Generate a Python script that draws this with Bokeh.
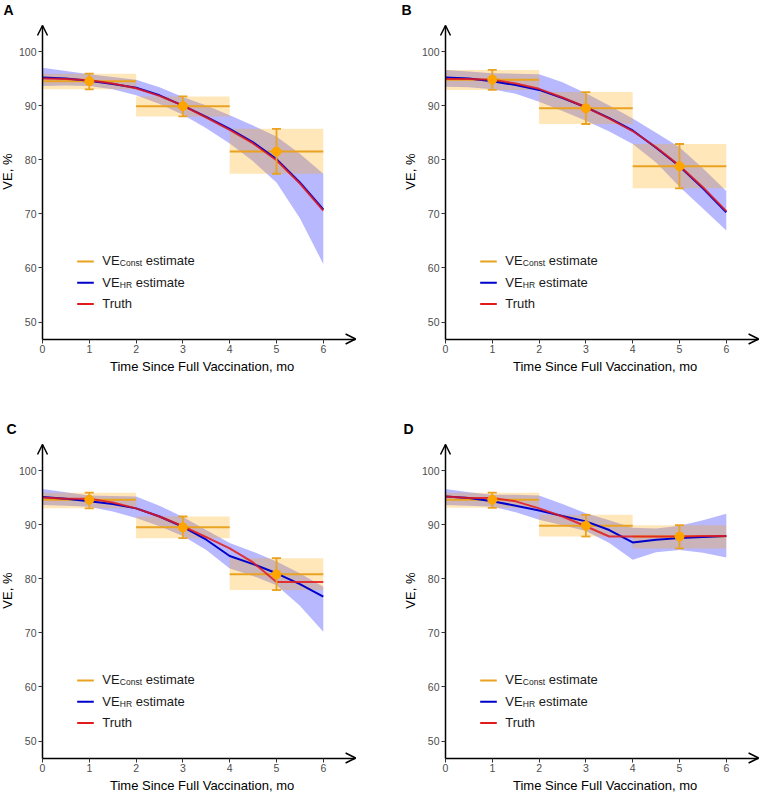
import numpy as np
from bokeh.plotting import figure
from bokeh.models import Range1d, Label, Arrow, OpenHead, FixedTicker
from bokeh.layouts import column, row
from bokeh.embed import file_html
from bokeh.resources import INLINE

# ---------------- data ----------------
time = [0, 0.5, 1, 1.5, 2, 2.5, 3, 3.5, 4, 4.5, 5, 5.5, 6]
period_start = [0, 2, 4]
period_end = [2, 4, 6]
period_mid = [1, 3, 5]
x_ticks = [0, 1, 2, 3, 4, 5, 6]
y_ticks = [50, 60, 70, 80, 90, 100]

# Panel A
a_hr = [95.2, 95.0, 94.6, 94.0, 93.3, 91.9, 90.0, 87.9, 85.7, 83.2, 80.1, 75.8, 70.8]
a_hr_lo = [93.6, 93.7, 93.6, 93.0, 91.9, 90.3, 88.3, 85.8, 83.0, 79.7, 75.8, 69.2, 60.7]
a_hr_hi = [97.0, 96.4, 95.8, 95.3, 94.8, 93.4, 91.6, 90.0, 88.2, 86.3, 84.3, 81.1, 77.4]
a_truth = [95.0, 94.9, 94.7, 94.1, 93.2, 91.8, 90.0, 87.8, 85.5, 83.0, 79.9, 75.6, 70.6]
a_const = [94.5, 89.9, 81.5]
a_const_lo = [93.0, 88.0, 77.4]
a_const_hi = [95.9, 91.7, 85.7]

# Panel B
b_hr = [95.2, 95.0, 94.5, 93.8, 92.9, 91.4, 89.7, 87.7, 85.4, 82.2, 78.8, 74.7, 70.3]
b_hr_lo = [93.5, 93.4, 93.0, 92.2, 90.7, 89.0, 87.2, 85.2, 82.9, 79.5, 75.0, 71.0, 66.9]
b_hr_hi = [96.6, 96.3, 96.0, 95.9, 95.8, 94.3, 92.3, 90.0, 87.6, 85.0, 82.3, 78.4, 74.2]
b_truth = [94.9, 94.9, 94.8, 94.1, 93.1, 91.5, 89.7, 87.6, 85.3, 82.3, 78.9, 74.9, 70.5]
b_const = [94.8, 89.5, 78.8]
b_const_lo = [92.9, 86.6, 74.7]
b_const_hi = [96.6, 92.5, 82.9]

# Panel C
c_hr = [95.1, 94.8, 94.3, 93.8, 93.0, 91.5, 89.6, 87.2, 84.2, 82.7, 81.0, 79.0, 76.7]
c_hr_lo = [93.6, 93.5, 93.3, 92.4, 91.2, 89.7, 87.9, 85.3, 81.9, 80.5, 78.8, 75.0, 70.2]
c_hr_hi = [96.6, 96.0, 95.4, 95.3, 95.2, 93.5, 91.4, 89.0, 86.6, 85.0, 83.2, 81.0, 78.5]
c_truth = [95.0, 94.8, 94.8, 94.1, 93.0, 91.5, 89.7, 87.7, 85.6, 83.0, 79.4, 79.4, 79.4]
c_const = [94.6, 89.5, 80.8]
c_const_lo = [93.0, 87.5, 77.9]
c_const_hi = [95.9, 91.5, 83.8]

# Panel D
d_hr = [95.2, 94.9, 94.3, 93.5, 92.6, 91.6, 90.6, 89.0, 86.7, 87.2, 87.5, 87.7, 87.9]
d_hr_lo = [93.6, 93.5, 93.3, 92.3, 90.9, 89.9, 88.8, 86.6, 83.5, 84.9, 85.3, 84.8, 83.9]
d_hr_hi = [96.6, 96.0, 95.5, 95.5, 95.4, 93.8, 92.1, 90.8, 89.4, 89.3, 89.8, 90.8, 92.0]
d_truth = [95.2, 94.9, 94.9, 94.3, 93.0, 91.5, 89.7, 87.8, 87.8, 87.8, 87.8, 87.9, 87.9]
d_const = [94.6, 89.8, 87.8]
d_const_lo = [93.1, 87.8, 85.6]
d_const_hi = [95.9, 91.8, 89.9]

# ---------------- layout / style ----------------
PX_PER_X = 46.8          # pixels per month
PX_PER_Y = 5.41          # pixels per VE point
AXIS_X_END = 6.69        # end of x-axis arrow
AXIS_Y_MIN, AXIS_Y_MAX = 46.85, 104.8
FONT = "Liberation Sans"
ORANGE_LINE = "#EAA221"
ORANGE_PT = "#FFA500"
BLUE = "#0000CD"
RED = "#E31A1C"

# legend layout (data units inside each panel)
LEG_SW_X0, LEG_SW_X1, LEG_TX = 0.741, 1.096, 1.276
LEG_ROWS = [61.2, 57.25, 53.35]
X_TITLE_X = 3.41
Y_TITLE_Y = 77.8


def make_panel(letter, hr, hr_lo, hr_hi, truth, c_est, c_lo, c_hi,
               width, height, axis_px, y100_px, letter_dx):
    xr = Range1d(-axis_px / PX_PER_X, (width - axis_px) / PX_PER_X)
    yr = Range1d(100 - (height - y100_px) / PX_PER_Y, 100 + y100_px / PX_PER_Y)
    p = figure(width=width, height=height, x_range=xr, y_range=yr,
               output_backend="svg", toolbar_location=None,
               min_border_left=0, min_border_right=0,
               min_border_top=0, min_border_bottom=0)
    p.min_border = 0
    p.outline_line_color = None
    p.grid.visible = False
    p.background_fill_color = "white"
    p.border_fill_color = "white"

    p.xaxis.ticker = FixedTicker(ticks=x_ticks)
    p.yaxis.ticker = FixedTicker(ticks=y_ticks)
    p.xaxis.fixed_location = AXIS_Y_MIN
    p.yaxis.fixed_location = 0
    p.xaxis.bounds = (0, AXIS_X_END)
    p.yaxis.bounds = (AXIS_Y_MIN, AXIS_Y_MAX)
    for ax in (p.xaxis[0], p.yaxis[0]):
        ax.axis_line_width = 1.5
        ax.axis_line_color = "black"
        ax.major_tick_out = 4
        ax.major_tick_in = 0
        ax.minor_tick_out = 0
        ax.minor_tick_in = 0
        ax.major_tick_line_color = "#333333"
        ax.major_label_text_font = FONT
        ax.major_label_text_font_size = "10.5px"
        ax.major_label_text_color = "#4D4D4D"
        ax.major_label_standoff = 2

    # HR band and constant-VE CI boxes
    p.varea(x=time, y1=hr_lo, y2=hr_hi, fill_color="#0000FF", fill_alpha=0.28)
    p.quad(left=period_start, right=period_end, bottom=c_lo, top=c_hi,
           fill_color=ORANGE_PT, fill_alpha=0.27, line_color=None)
    p.segment(x0=period_start, x1=period_end, y0=c_est, y1=c_est,
              line_color=ORANGE_LINE, line_width=2)
    p.line(time, hr, line_color=BLUE, line_width=2)
    p.line(time, truth, line_color=RED, line_width=2, line_alpha=0.85)
    # error bars
    p.segment(x0=period_mid, x1=period_mid, y0=c_lo, y1=c_hi,
              line_color=ORANGE_LINE, line_width=1.8)
    p.scatter(x=period_mid + period_mid, y=c_lo + c_hi, marker="dash", size=9,
              line_color=ORANGE_LINE, line_width=1.8)
    p.scatter(x=period_mid, y=c_est, size=9, fill_color=ORANGE_PT, line_color=ORANGE_PT)

    # axis arrowheads
    p.add_layout(Arrow(x_start=AXIS_X_END - 0.05, y_start=AXIS_Y_MIN, x_end=AXIS_X_END, y_end=AXIS_Y_MIN,
                       end=OpenHead(size=10, line_width=1.5, line_color="black"),
                       line_width=1.5, line_color="black"))
    p.add_layout(Arrow(x_start=0, y_start=AXIS_Y_MAX - 0.3, x_end=0, y_end=AXIS_Y_MAX,
                       end=OpenHead(size=10, line_width=1.5, line_color="black"),
                       line_width=1.5, line_color="black"))

    # legend (manual, for subscripts)
    for yv, col in zip(LEG_ROWS, [ORANGE_LINE, BLUE, RED]):
        p.segment(x0=[LEG_SW_X0], x1=[LEG_SW_X1], y0=[yv], y1=[yv], line_color=col, line_width=2)
    common = dict(text_font=FONT, text_color="#1A1A1A", text_baseline="alphabetic", text_align="left")
    p.add_layout(Label(x=LEG_TX, y=LEG_ROWS[0], y_offset=0.5, text="VE", text_font_size="13px", **common))
    p.add_layout(Label(x=LEG_TX, y=LEG_ROWS[0], x_offset=17.6, y_offset=-2, text="Const", text_font_size="8.5px", **common))
    p.add_layout(Label(x=LEG_TX, y=LEG_ROWS[0], x_offset=43.5, y_offset=0.5, text="estimate", text_font_size="13px", **common))
    p.add_layout(Label(x=LEG_TX, y=LEG_ROWS[1], y_offset=0.5, text="VE", text_font_size="13px", **common))
    p.add_layout(Label(x=LEG_TX, y=LEG_ROWS[1], x_offset=17.6, y_offset=-2, text="HR", text_font_size="8.5px", **common))
    p.add_layout(Label(x=LEG_TX, y=LEG_ROWS[1], x_offset=33.5, y_offset=0.5, text="estimate", text_font_size="13px", **common))
    p.add_layout(Label(x=LEG_TX, y=LEG_ROWS[2], y_offset=0.5, text="Truth", text_font_size="13px", **common))

    # axis titles and panel letter
    p.add_layout(Label(x=X_TITLE_X, y=AXIS_Y_MIN, y_offset=-27.5, text="Time Since Full Vaccination, mo",
                       text_font=FONT, text_font_size="13px", text_color="black",
                       text_align="center", text_baseline="alphabetic"))
    p.add_layout(Label(x=0, y=Y_TITLE_Y, x_offset=-35, angle=np.pi / 2, text="VE, %",
                       text_font=FONT, text_font_size="13px", text_color="black",
                       text_align="center", text_baseline="middle"))
    p.add_layout(Label(x=0, y=AXIS_Y_MAX, x_offset=letter_dx, y_offset=16, text=letter,
                       text_font=FONT, text_font_size="14px", text_font_style="bold",
                       text_color="black", text_align="left", text_baseline="alphabetic"))
    return p


pa = make_panel("A", a_hr, a_hr_lo, a_hr_hi, a_truth, a_const, a_const_lo, a_const_hi,
                380, 400, 42, 51, -39)
pb = make_panel("B", b_hr, b_hr_lo, b_hr_hi, b_truth, b_const, b_const_lo, b_const_hi,
                380, 400, 65, 51, -44)
pc = make_panel("C", c_hr, c_hr_lo, c_hr_hi, c_truth, c_const, c_const_lo, c_const_hi,
                380, 395, 42, 70, -36)
pd = make_panel("D", d_hr, d_hr_lo, d_hr_hi, d_truth, d_const, d_const_lo, d_const_hi,
                380, 395, 65, 70, -42)

layout = column(row(pa, pb), row(pc, pd))
open("out.html", "w").write(file_html(layout, INLINE))
